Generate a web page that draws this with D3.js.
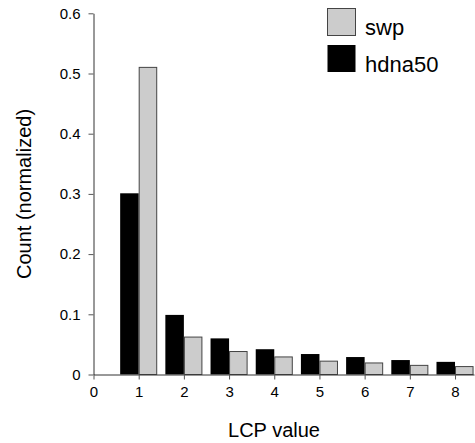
<!DOCTYPE html>
<html>
<head>
<meta charset="utf-8">
<script src="https://cdn.jsdelivr.net/npm/d3@7"></script>
<style>
  body { margin: 0; background: #fff; }
  svg text { font-family: 'Liberation Sans', Arial, sans-serif; fill: #000; }
</style>
</head>
<body>
<div id="chart"></div>
<script>
const lcpValues = [1, 2, 3, 4, 5, 6, 7, 8];
const hdna50 = [0.301, 0.099, 0.060, 0.042, 0.034, 0.029, 0.024, 0.021];
const swp = [0.511, 0.063, 0.039, 0.030, 0.023, 0.020, 0.016, 0.014];
const yTicks = [0, 0.1, 0.2, 0.3, 0.4, 0.5, 0.6];
const xTicks = [0, 1, 2, 3, 4, 5, 6, 7, 8];

const w = 475;
const h = 443;
const barW = 0.41;

const svg = d3.select('#chart').append('svg').attr('width', w).attr('height', h);

const scaleX = d3.scaleLinear().domain([0, 8.42]).range([93.5, 474]);
const scaleY = d3.scaleLinear().domain([0, 0.6]).range([374.5, 13.3]);

// bars
svg.selectAll('rect.hdna')
  .data(lcpValues)
  .enter()
  .append('rect')
  .attr('class', 'hdna')
  .attr('x', (d) => scaleX(d - barW))
  .attr('width', (d) => scaleX(d) - scaleX(d - barW))
  .attr('y', (d, i) => scaleY(hdna50[i]))
  .attr('height', (d, i) => scaleY(0) - scaleY(hdna50[i]))
  .attr('fill', '#000');

svg.selectAll('rect.swp')
  .data(lcpValues)
  .enter()
  .append('rect')
  .attr('class', 'swp')
  .attr('x', (d) => scaleX(d) + 0.5)
  .attr('width', (d) => scaleX(d + barW) - scaleX(d) - 1)
  .attr('y', (d, i) => scaleY(swp[i]) + 0.5)
  .attr('height', (d, i) => scaleY(0) - scaleY(swp[i]) - 0.5)
  .attr('fill', '#cccccc')
  .attr('stroke', '#444')
  .attr('stroke-width', 1);

// axes
const axisX = d3.axisBottom(scaleX).tickValues(xTicks).tickSize(5).tickSizeOuter(0).tickPadding(7)
  .tickFormat(d3.format('d'));
const axisY = d3.axisLeft(scaleY).tickValues(yTicks).tickSize(5).tickSizeOuter(0).tickPadding(8)
  .tickFormat((d) => (d === 0 ? '0' : d3.format('.1f')(d)));

const gx = svg.append('g').attr('id', 'x-axis')
  .attr('transform', `translate(0, ${scaleY(0)})`)
  .call(axisX);
const gy = svg.append('g').attr('id', 'y-axis')
  .attr('transform', `translate(${scaleX(0)}, 0)`)
  .call(axisY);

[gx, gy].forEach((g) => {
  g.select('.domain').attr('stroke', '#333');
  g.selectAll('.tick line').attr('stroke', '#555');
  g.selectAll('.tick text').attr('font-size', 15).attr('fill', '#000')
    .attr('font-family', "'Liberation Sans', Arial, sans-serif");
});

// titles
svg.append('text')
  .attr('x', 274)
  .attr('y', 437)
  .attr('text-anchor', 'middle')
  .attr('font-size', 20)
  .text('LCP value');

svg.append('text')
  .attr('transform', 'translate(31, 194) rotate(-90)')
  .attr('text-anchor', 'middle')
  .attr('font-size', 20)
  .text('Count (normalized)');

// legend
const legendItems = [
  { name: 'swp', fill: '#cccccc', stroke: '#444' },
  { name: 'hdna50', fill: '#000', stroke: 'none' }
];
const legend = svg.append('g').attr('id', 'legend');
legendItems.forEach((item, i) => {
  const y0 = 8 + i * 36.5;
  legend.append('rect')
    .attr('x', 327.5)
    .attr('y', y0 + 0.5)
    .attr('width', 28)
    .attr('height', 27)
    .attr('fill', item.fill)
    .attr('stroke', item.stroke);
  legend.append('text')
    .attr('x', 365)
    .attr('y', y0 + 27)
    .attr('font-size', 22)
    .text(item.name);
});
</script>
</body>
</html>
